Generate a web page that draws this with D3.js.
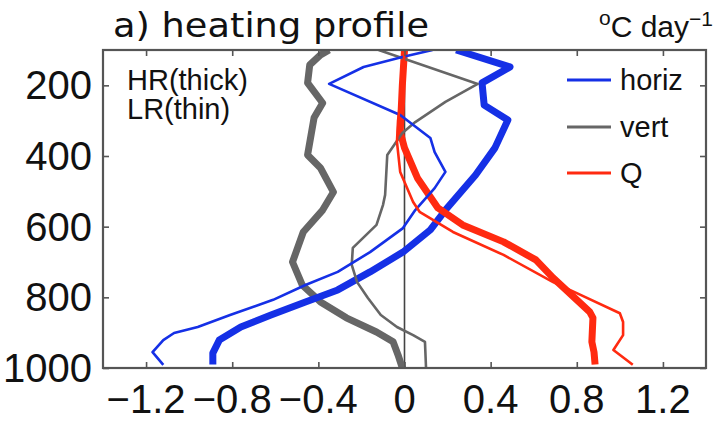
<!DOCTYPE html>
<html>
<head>
<meta charset="utf-8">
<script src="https://cdn.jsdelivr.net/npm/d3@7"></script>
<style>
  html, body { margin: 0; padding: 0; background: #fff; }
  svg { display: block; }
  text { font-family: "Liberation Sans", Arial, sans-serif; fill: #111; }
</style>
</head>
<body>
<svg id="chart" width="716" height="421"></svg>
<script>
// ---------------- data (pressure in hPa, heating in °C/day) ----------------
const xTicks = [-1.2, -0.8, -0.4, 0, 0.4, 0.8, 1.2];
const xTickLabels = ["\u22121.2", "\u22120.8", "\u22120.4", "0", "0.4", "0.8", "1.2"];
const yTicks = [200, 400, 600, 800, 1000];
const yTickLabels = ["200", "400", "600", "800", "1000"];

const horizHR_p = [100, 148, 193, 256, 298, 377, 454, 553, 609, 672, 728, 779, 813, 850, 884, 921, 958, 990];
const horizHR_v = [0.24, 0.49, 0.36, 0.37, 0.48, 0.42, 0.33, 0.19, 0.12, -0.007, -0.16, -0.31, -0.46, -0.62, -0.76, -0.86, -0.89, -0.89];

const horizLR_p = [100, 120, 148, 196, 284, 349, 389, 445, 491, 553, 604, 672, 728, 765, 807, 850, 884, 901, 921, 955, 991];
const horizLR_v = [0.13, -0.01, -0.19, -0.35, -0.02, 0.12, 0.14, 0.19, 0.14, 0.05, -0.007, -0.16, -0.31, -0.46, -0.61, -0.81, -0.96, -1.07, -1.12, -1.17, -1.12];

const vertHR_p = [100, 114, 142, 193, 250, 292, 397, 434, 502, 553, 615, 700, 765, 813, 858, 898, 926, 963, 1000];
const vertHR_v = [-0.35, -0.39, -0.44, -0.45, -0.38, -0.42, -0.45, -0.39, -0.33, -0.38, -0.47, -0.52, -0.475, -0.39, -0.27, -0.13, -0.053, -0.03, -0.01];

const vertLR_p = [100, 196, 247, 304, 335, 397, 510, 539, 595, 660, 708, 757, 802, 850, 884, 907, 926, 1000];
const vertLR_v = [-0.12, 0.34, 0.19, 0.05, -0.01, -0.08, -0.09, -0.10, -0.13, -0.24, -0.245, -0.22, -0.17, -0.11, -0.035, 0.04, 0.095, 0.10];

const qHR_p = [100, 200, 332, 377, 462, 547, 595, 643, 694, 745, 841, 858, 926, 955, 990];
const qHR_v = [0.0, -0.01, -0.02, 0.0, 0.06, 0.155, 0.27, 0.46, 0.61, 0.69, 0.86, 0.875, 0.87, 0.88, 0.885];

const qLR_p = [100, 200, 300, 360, 445, 530, 558, 615, 680, 757, 788, 845, 870, 907, 949, 991];
const qLR_v = [0.0, -0.01, -0.03, -0.035, -0.02, 0.04, 0.07, 0.225, 0.46, 0.69, 0.8, 1.0, 1.015, 1.015, 0.97, 1.06];

const legendNames = ["horiz", "vert", "Q"];

// ---------------- layout ----------------
const svg = d3.select("#chart");
const L = 103, R = 706, T = 50, B = 368;
const x = d3.scaleLinear().domain([-1.4, 1.4]).range([L, R]);
const y = d3.scaleLinear().domain([100, 1000]).range([T, B]);

const COL = { blue: "#1530e6", gray: "#666666", red: "#ff2a10" };
const THICK = 7, THIN = 2.6;

const defs = svg.append("defs");
defs.append("clipPath").attr("id", "clip")
  .append("rect").attr("x", L).attr("y", T).attr("width", R - L).attr("height", B - T);

// zero line
svg.append("line")
  .attr("x1", x(0)).attr("x2", x(0)).attr("y1", T).attr("y2", B)
  .attr("stroke", "#444").attr("stroke-width", 1.6);

const line = d3.line().x(d => x(d[1])).y(d => y(d[0]));
const plot = svg.append("g").attr("clip-path", "url(#clip)");
function drawSeries(ps, vs, color, w) {
  plot.append("path")
    .datum(d3.zip(ps, vs))
    .attr("d", line)
    .attr("fill", "none")
    .attr("stroke", color)
    .attr("stroke-width", w)
    .attr("stroke-linejoin", "round")
    .attr("stroke-linecap", "butt");
}
drawSeries(vertHR_p, vertHR_v, COL.gray, THICK);
drawSeries(horizHR_p, horizHR_v, COL.blue, THICK);
drawSeries(qHR_p, qHR_v, COL.red, THICK);
drawSeries(vertLR_p, vertLR_v, COL.gray, THIN);
drawSeries(horizLR_p, horizLR_v, COL.blue, THIN);
drawSeries(qLR_p, qLR_v, COL.red, THIN);

// axes (ticks inside, mirrored)
const tl = 6;
const axisCol = "#555";
const axB = svg.append("g").attr("transform", `translate(0,${B})`)
  .call(d3.axisBottom(x).tickValues(xTicks).tickSize(-tl).tickFormat(""));
const axT = svg.append("g").attr("transform", `translate(0,${T})`)
  .call(d3.axisTop(x).tickValues(xTicks).tickSize(-tl).tickFormat(""));
const axL = svg.append("g").attr("transform", `translate(${L},0)`)
  .call(d3.axisLeft(y).tickValues(yTicks).tickSize(-tl).tickFormat(""));
const axR = svg.append("g").attr("transform", `translate(${R},0)`)
  .call(d3.axisRight(y).tickValues(yTicks).tickSize(-tl).tickFormat(""));
[axB, axT, axL, axR].forEach(a => {
  a.select(".domain").remove();
  a.selectAll(".tick line").attr("stroke", axisCol).attr("stroke-width", 1.6);
});
svg.append("rect").attr("x", L).attr("y", T).attr("width", R - L).attr("height", B - T)
  .attr("fill", "none").attr("stroke", axisCol).attr("stroke-width", 2.2);

// tick labels
svg.append("g").selectAll("text").data(xTicks).join("text")
  .attr("x", d => x(d)).attr("y", 413)
  .attr("text-anchor", "middle")
  .style("font-size", "40px")
  .text((d, i) => xTickLabels[i]);
svg.append("g").selectAll("text").data(yTicks).join("text")
  .attr("x", 92).attr("y", d => y(d) + 14)
  .attr("text-anchor", "end")
  .style("font-size", "40px")
  .text((d, i) => yTickLabels[i]);

// title
svg.append("text").attr("x", 113).attr("y", 37)
  .style("font-family", "'DejaVu Sans', sans-serif")
  .style("font-size", "33px")
  .attr("textLength", 316).attr("lengthAdjust", "spacingAndGlyphs")
  .text("a) heating profile");

// units
const u = svg.append("text").attr("x", 713).attr("y", 37).attr("text-anchor", "end")
  .style("font-size", "30px");
u.append("tspan").attr("dy", -12).style("font-size", "21px").text("o");
u.append("tspan").attr("dy", 12).text("C day");
u.append("tspan").attr("dy", -11).style("font-size", "21px").text("\u22121");

// HR/LR note
svg.append("text").attr("x", 127).attr("y", 90).style("font-size", "29px").text("HR(thick)");
svg.append("text").attr("x", 127).attr("y", 119).style("font-size", "29px").text("LR(thin)");

// legend
const legCols = [COL.blue, COL.gray, COL.red];
const legY = [80, 127, 173];
legendNames.forEach((n, i) => {
  svg.append("line").attr("x1", 567).attr("x2", 611).attr("y1", legY[i]).attr("y2", legY[i])
    .attr("stroke", legCols[i]).attr("stroke-width", 3);
  svg.append("text").attr("x", 620).attr("y", legY[i] + 10).style("font-size", "29px").text(n);
});
</script>
</body>
</html>
